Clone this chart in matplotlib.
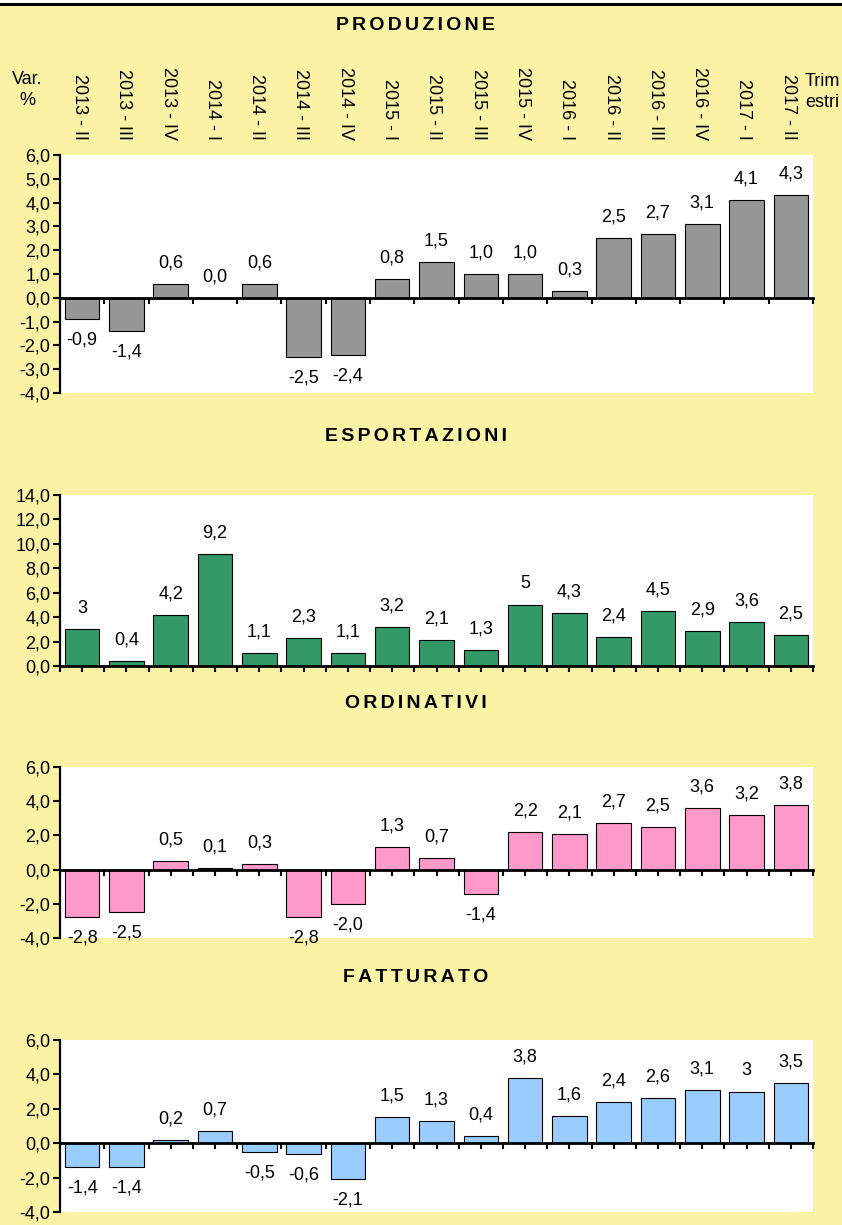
import matplotlib
matplotlib.use('Agg')
import matplotlib.pyplot as plt
import matplotlib.transforms as mtransforms
from matplotlib.lines import Line2D
from matplotlib.patches import Rectangle
from matplotlib.ticker import MultipleLocator, FuncFormatter
import numpy as np

plt.rcParams['font.family'] = ['Liberation Sans', 'DejaVu Sans']

# dati
trimestri = ['2013 - II', '2013 - III', '2013 - IV', '2014 - I', '2014 - II', '2014 - III',
             '2014 - IV', '2015 - I', '2015 - II', '2015 - III', '2015 - IV', '2016 - I',
             '2016 - II', '2016 - III', '2016 - IV', '2017 - I', '2017 - II']
produzione = [-0.9, -1.4, 0.6, 0.0, 0.6, -2.5, -2.4, 0.8, 1.5, 1.0, 1.0, 0.3, 2.5, 2.7, 3.1, 4.1, 4.3]
esportazioni = [3, 0.4, 4.2, 9.2, 1.1, 2.3, 1.1, 3.2, 2.1, 1.3, 5, 4.3, 2.4, 4.5, 2.9, 3.6, 2.5]
ordinativi = [-2.8, -2.5, 0.5, 0.1, 0.3, -2.8, -2.0, 1.3, 0.7, -1.4, 2.2, 2.1, 2.7, 2.5, 3.6, 3.2, 3.8]
fatturato = [-1.4, -1.4, 0.2, 0.7, -0.5, -0.6, -2.1, 1.5, 1.3, 0.4, 3.8, 1.6, 2.4, 2.6, 3.1, 3, 3.5]

W, H = 842, 1225
YELLOW = '#FAF3A6'
FS = 13


def rect(x0, y0, x1, y1):
    # pixel box -> figure fraction
    return [x0 / W, 1 - y1 / H, (x1 - x0) / W, (y1 - y0) / H]


def comma(v, fixed):
    if abs(v) < 1e-9:
        v = 0.0
    s = f"{v:.1f}" if fixed else f"{v:g}"
    return s.replace('.', ',')


panels = [
    ('PRODUZIONE', produzione, '#969696', (-4, 6), 1, True, False, (155, 393), 25),
    ('ESPORTAZIONI', esportazioni, '#339966', (0, 14), 2, False, True, (495, 666), 436),
    ('ORDINATIVI', ordinativi, '#FF99CC', (-4, 6), 2, True, True, (767, 938), 703),
    ('FATTURATO', fatturato, '#99CCFF', (-4, 6), 2, False, True, (1040, 1212), 977),
]

fig = plt.figure(figsize=(W / 100, H / 100), dpi=100, facecolor=YELLOW)

x = np.arange(len(trimestri))
axes = []
for title, vals, col, ylim, step, fixed, centers, (top, bot), ty in panels:
    ax = fig.add_axes(rect(60, top, 813, bot))
    ax.set_facecolor('white')
    ax.bar(x, vals, width=0.78, color=col, edgecolor='black', linewidth=0.8, zorder=2)
    ax.set_xlim(-0.5, len(x) - 0.5)
    ax.set_ylim(*ylim)

    for s in ['top', 'right']:
        ax.spines[s].set_visible(False)
    ax.spines['bottom'].set_position(('data', 0))
    ax.spines['bottom'].set_linewidth(2.0)
    ax.spines['left'].set_linewidth(1.6)
    ax.spines['bottom'].set_zorder(3)

    ax.set_xticks(np.arange(-0.5, len(x), 1))
    if centers:
        ax.set_xticks(x, minor=True)
    ax.tick_params(axis='x', which='both', direction='out', length=4, width=1.5, labelbottom=False)
    ax.tick_params(axis='y', direction='out', length=5, width=1.5, labelsize=FS, pad=2)
    ax.yaxis.set_major_locator(MultipleLocator(step))
    ax.yaxis.set_major_formatter(FuncFormatter(lambda v, p: comma(v, True)))

    for xi, v in zip(x, vals):
        off = 21 if v >= 0 else -21
        ax.annotate(comma(v, fixed), (xi, v), xytext=(0, off), textcoords='offset pixels',
                    ha='center', va='center', fontsize=FS)

    fig.text(416 / W, 1 - ty / H, '\u200a\u200a'.join(title), ha='center', va='center',
             fontsize=14, fontweight='bold')
    axes.append(ax)

# etichette trimestri sopra il primo grafico
trans = mtransforms.blended_transform_factory(axes[0].transData, fig.transFigure)
for xi, lab in zip(x, trimestri):
    axes[0].text(xi - 0.06, 1 - 140 / H, lab, rotation=270, ha='center', va='bottom',
                 transform=trans, fontsize=FS)

fig.text(27 / W, 1 - 90 / H, 'Var.\n%', ha='center', va='center', fontsize=FS, linespacing=1.35)
fig.text(822 / W, 1 - 92 / H, 'Trim\nestri', ha='center', va='center', fontsize=FS, linespacing=1.35)

# linea nera in alto
fig.add_artist(Rectangle((0, 1 - 3 / H), 1, 3 / H, transform=fig.transFigure,
                         facecolor='white', edgecolor='none'))
fig.add_artist(Line2D([0, 1], [1 - 4 / H, 1 - 4 / H], transform=fig.transFigure,
                      color='black', linewidth=2.2))

fig.savefig('out.png', dpi=100, facecolor=YELLOW)
